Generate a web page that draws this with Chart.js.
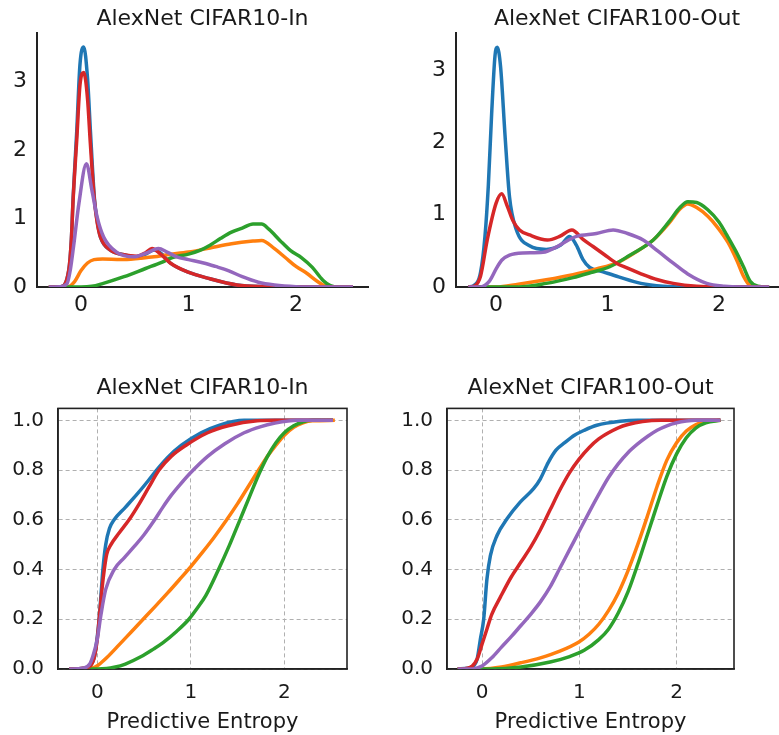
<!DOCTYPE html>
<html>
<head>
<meta charset="utf-8">
<script src="https://cdn.jsdelivr.net/npm/chart.js@4.4.0/dist/chart.umd.min.js"></script>
<style>
body { margin: 0; background: #fff; width: 779px; height: 735px; position: relative; overflow: hidden; }
.panel { position: absolute; }
</style>
</head>
<body>
<div class="panel" style="left:0px;top:0px"><canvas id="kdeIn" width="380" height="335"></canvas></div>
<div class="panel" style="left:420px;top:0px"><canvas id="kdeOut" width="359" height="335"></canvas></div>
<div class="panel" style="left:0px;top:370px"><canvas id="cdfIn" width="360" height="365"></canvas></div>
<div class="panel" style="left:390px;top:370px"><canvas id="cdfOut" width="389" height="365"></canvas></div>
<script>
// series colours, in draw order: blue, orange, green, red, purple
var COLORS = ['#1f77b4', '#ff7f0e', '#2ca02c', '#d62728', '#9467bd'];

var titles = ['AlexNet CIFAR10-In', 'AlexNet CIFAR100-Out'];
var xLabel = 'Predictive Entropy';
var xTicks = [0, 1, 2];
var kdeTicks = [0, 1, 2, 3];
var cdfTicks = [0, 0.2, 0.4, 0.6, 0.8, 1.0];

// density, CIFAR10-In  ([entropy, density])
var kdeInBlue = [[-0.3,0],[-0.19,0.005],[-0.115,0.24],[-0.09,0.7],[-0.074,1.3],[-0.04,2.28],[-0.01,3.25],[0.025,3.5],[0.06,3.05],[0.087,2.28],[0.124,1.3],[0.15,0.96],[0.18,0.73],[0.27,0.54],[0.4,0.47],[0.52,0.44],[0.6,0.48],[0.68,0.54],[0.76,0.47],[0.83,0.35],[0.99,0.22],[1.2,0.12],[1.45,0.03],[1.7,0.005],[2.0,0],[2.53,0]];
var kdeInOrange = [[-0.3,0],[-0.13,0],[-0.06,0.08],[0.0,0.24],[0.06,0.35],[0.12,0.4],[0.2,0.41],[0.37,0.4],[0.55,0.42],[0.68,0.44],[0.8,0.47],[1.0,0.51],[1.2,0.57],[1.4,0.63],[1.6,0.67],[1.68,0.68],[1.8,0.56],[1.9,0.43],[2.0,0.3],[2.1,0.2],[2.2,0.08],[2.28,0.01],[2.4,0],[2.53,0]];
var kdeInGreen = [[-0.3,0],[0.0,0],[0.1,0.01],[0.2,0.05],[0.4,0.15],[0.6,0.27],[0.75,0.36],[0.85,0.43],[1.0,0.48],[1.1,0.53],[1.2,0.61],[1.3,0.71],[1.4,0.8],[1.5,0.86],[1.6,0.92],[1.68,0.92],[1.75,0.84],[1.85,0.68],[1.95,0.53],[2.05,0.43],[2.15,0.29],[2.25,0.1],[2.32,0.02],[2.4,0],[2.53,0]];
var kdeInRed = [[-0.3,0],[-0.19,0.005],[-0.115,0.24],[-0.09,0.7],[-0.074,1.27],[-0.04,2.15],[-0.01,2.95],[0.025,3.13],[0.06,2.75],[0.087,2.08],[0.124,1.27],[0.15,0.94],[0.18,0.73],[0.27,0.54],[0.4,0.47],[0.52,0.45],[0.6,0.5],[0.66,0.56],[0.74,0.48],[0.83,0.35],[0.99,0.22],[1.2,0.12],[1.45,0.03],[1.7,0.005],[2.0,0],[2.53,0]];
var kdeInPurple = [[-0.3,0],[-0.2,0.005],[-0.13,0.05],[-0.1,0.25],[-0.07,0.59],[-0.02,1.22],[0.05,1.8],[0.1,1.42],[0.15,1.02],[0.21,0.73],[0.33,0.51],[0.49,0.44],[0.6,0.49],[0.72,0.56],[0.8,0.51],[0.89,0.44],[1.0,0.4],[1.14,0.35],[1.25,0.3],[1.37,0.24],[1.5,0.15],[1.65,0.07],[1.8,0.03],[2.0,0.005],[2.2,0],[2.53,0]];

// density, CIFAR100-Out
var kdeOutBlue = [[-0.25,0],[-0.2,0.02],[-0.14,0.2],[-0.1,0.7],[-0.07,1.4],[-0.04,2.4],[-0.01,3.2],[0.01,3.32],[0.04,3.05],[0.08,2.1],[0.12,1.25],[0.18,0.8],[0.3,0.57],[0.45,0.52],[0.58,0.58],[0.66,0.7],[0.72,0.58],[0.78,0.38],[0.84,0.27],[0.96,0.21],[1.1,0.14],[1.3,0.05],[1.5,0.01],[1.7,0],[2.45,0]];
var kdeOutOrange = [[-0.25,0],[0.0,0],[0.2,0.04],[0.45,0.1],[0.69,0.17],[0.9,0.25],[1.08,0.33],[1.25,0.48],[1.41,0.65],[1.55,0.88],[1.65,1.08],[1.72,1.15],[1.8,1.1],[1.9,0.98],[1.98,0.84],[2.08,0.62],[2.16,0.37],[2.22,0.15],[2.28,0.02],[2.35,0],[2.45,0]];
var kdeOutGreen = [[-0.25,0],[0.2,0],[0.45,0.05],[0.69,0.13],[0.85,0.2],[1.02,0.28],[1.2,0.44],[1.41,0.65],[1.55,0.9],[1.65,1.1],[1.72,1.18],[1.8,1.17],[1.9,1.07],[2.0,0.9],[2.07,0.72],[2.15,0.5],[2.22,0.28],[2.28,0.08],[2.35,0.01],[2.45,0]];
var kdeOutRed = [[-0.25,0],[-0.2,0.01],[-0.14,0.15],[-0.08,0.65],[0.0,1.16],[0.05,1.29],[0.1,1.12],[0.15,0.92],[0.21,0.79],[0.3,0.72],[0.46,0.65],[0.57,0.7],[0.68,0.79],[0.78,0.66],[0.87,0.56],[0.97,0.45],[1.08,0.33],[1.18,0.26],[1.29,0.19],[1.45,0.1],[1.59,0.05],[1.8,0.01],[2.0,0],[2.45,0]];
var kdeOutPurple = [[-0.25,0],[-0.14,0],[-0.06,0.08],[0.0,0.25],[0.05,0.37],[0.12,0.44],[0.24,0.47],[0.42,0.48],[0.55,0.56],[0.65,0.65],[0.72,0.7],[0.9,0.74],[1.05,0.79],[1.18,0.74],[1.32,0.65],[1.45,0.5],[1.59,0.33],[1.72,0.18],[1.89,0.05],[2.05,0.01],[2.2,0],[2.45,0]];

// cumulative, CIFAR10-In
var cdfInBlue = [[-0.3,0],[-0.15,0.003],[-0.07,0.015],[-0.03,0.05],[0.0,0.13],[0.02,0.2],[0.04,0.3],[0.06,0.4],[0.09,0.5],[0.13,0.565],[0.18,0.6],[0.3,0.65],[0.43,0.705],[0.54,0.755],[0.645,0.805],[0.75,0.85],[0.9,0.9],[1.11,0.95],[1.3,0.98],[1.57,1.0],[2.52,1.0]];
var cdfInOrange = [[-0.3,0],[-0.12,0],[-0.05,0.004],[0.0,0.013],[0.05,0.028],[0.1,0.045],[0.235,0.098],[0.36,0.148],[0.485,0.198],[0.62,0.252],[0.75,0.305],[0.88,0.36],[1.0,0.412],[1.13,0.472],[1.25,0.53],[1.38,0.598],[1.5,0.665],[1.6,0.725],[1.7,0.785],[1.8,0.845],[1.9,0.895],[2.0,0.94],[2.1,0.972],[2.2,0.99],[2.3,0.998],[2.54,1.0]];
var cdfInGreen = [[-0.3,0],[0.0,0],[0.1,0.002],[0.18,0.007],[0.3,0.02],[0.47,0.05],[0.6,0.08],[0.7,0.105],[0.85,0.152],[0.98,0.2],[1.07,0.245],[1.16,0.295],[1.29,0.395],[1.41,0.495],[1.52,0.595],[1.63,0.695],[1.73,0.785],[1.82,0.855],[1.91,0.91],[2.0,0.95],[2.1,0.978],[2.2,0.994],[2.3,1.0],[2.52,1.0]];
var cdfInRed = [[-0.3,0],[-0.15,0.003],[-0.07,0.015],[-0.03,0.05],[0.0,0.12],[0.02,0.2],[0.05,0.32],[0.075,0.4],[0.1,0.46],[0.146,0.5],[0.235,0.548],[0.34,0.6],[0.45,0.665],[0.55,0.73],[0.66,0.8],[0.79,0.855],[0.95,0.9],[1.18,0.95],[1.4,0.978],[1.71,0.998],[1.9,1.0],[2.52,1.0]];
var cdfInPurple = [[-0.3,0],[-0.15,0.003],[-0.08,0.02],[-0.04,0.06],[0.0,0.12],[0.04,0.22],[0.09,0.32],[0.18,0.4],[0.29,0.448],[0.4,0.495],[0.5,0.54],[0.61,0.598],[0.7,0.65],[0.79,0.698],[0.9,0.748],[1.0,0.79],[1.18,0.855],[1.36,0.905],[1.57,0.95],[1.75,0.975],[1.89,0.988],[2.14,1.0],[2.52,1.0]];

// cumulative, CIFAR100-Out
var cdfOutBlue = [[-0.25,0],[-0.15,0.003],[-0.086,0.013],[-0.05,0.04],[-0.017,0.12],[0.017,0.2],[0.05,0.36],[0.086,0.456],[0.154,0.537],[0.257,0.604],[0.39,0.67],[0.53,0.725],[0.6,0.765],[0.68,0.83],[0.76,0.88],[0.85,0.91],[0.95,0.94],[1.05,0.96],[1.18,0.98],[1.42,0.996],[1.6,1.0],[2.45,1.0]];
var cdfOutOrange = [[-0.25,0],[0.0,0],[0.2,0.008],[0.4,0.025],[0.6,0.045],[0.8,0.072],[1.0,0.11],[1.1,0.14],[1.2,0.18],[1.3,0.235],[1.4,0.305],[1.5,0.395],[1.6,0.5],[1.7,0.615],[1.8,0.735],[1.9,0.84],[2.0,0.91],[2.1,0.957],[2.2,0.983],[2.3,0.996],[2.45,1.0]];
var cdfOutGreen = [[-0.25,0],[0.1,0],[0.4,0.008],[0.7,0.028],[0.9,0.05],[1.05,0.075],[1.2,0.118],[1.3,0.16],[1.4,0.225],[1.5,0.31],[1.6,0.42],[1.7,0.54],[1.8,0.66],[1.9,0.775],[2.0,0.865],[2.1,0.93],[2.2,0.97],[2.3,0.99],[2.45,1.0]];
var cdfOutRed = [[-0.25,0],[-0.15,0.003],[-0.1,0.012],[-0.05,0.04],[0.0,0.1],[0.05,0.16],[0.1,0.22],[0.19,0.29],[0.3,0.37],[0.4,0.43],[0.5,0.49],[0.6,0.56],[0.7,0.64],[0.8,0.72],[0.9,0.79],[1.0,0.845],[1.1,0.89],[1.2,0.925],[1.3,0.95],[1.4,0.97],[1.5,0.983],[1.65,0.995],[1.84,1.0],[2.45,1.0]];
var cdfOutPurple = [[-0.25,0],[-0.1,0],[-0.05,0.004],[0.0,0.012],[0.1,0.045],[0.2,0.088],[0.3,0.13],[0.4,0.175],[0.5,0.22],[0.6,0.27],[0.7,0.33],[0.8,0.405],[0.9,0.48],[1.0,0.555],[1.1,0.63],[1.2,0.702],[1.3,0.77],[1.4,0.825],[1.5,0.87],[1.6,0.905],[1.7,0.935],[1.8,0.96],[1.9,0.978],[2.0,0.99],[2.1,0.997],[2.2,1.0],[2.45,1.0]];

Chart.defaults.font.family = "'DejaVu Sans', sans-serif";
Chart.defaults.color = '#1a1a1a';

// full box round the plot area (bottom row)
var framePlugin = {
    id: 'frame',
    beforeDatasetsDraw: function (chart) {
        var a = chart.chartArea, ctx = chart.ctx;
        ctx.save();
        ctx.strokeStyle = '#222';
        ctx.lineWidth = 1.6;
        ctx.strokeRect(a.left, a.top, a.right - a.left, a.bottom - a.top);
        ctx.restore();
    }
};

function drawPanel(id, title, lines, o) {
    var datasets = lines.map(function (pts, i) {
        return {
            data: pts,
            borderColor: COLORS[i],
            backgroundColor: COLORS[i],
            borderWidth: 3.5,
            pointRadius: 0,
            cubicInterpolationMode: 'monotone',
            order: lines.length - i
        };
    });
    var gridOpts = o.grid
        ? { display: true, color: '#b0b0b0', lineWidth: 1, drawTicks: false }
        : { display: false, drawTicks: false };
    return new Chart(document.getElementById(id), {
        type: 'line',
        data: { datasets: datasets },
        options: {
            responsive: false,
            animation: false,
            layout: { padding: { left: 0, right: o.padRight, top: 0, bottom: 0 } },
            plugins: {
                legend: { display: false },
                tooltip: { enabled: false },
                title: {
                    display: true,
                    text: title,
                    fullSize: false,
                    color: '#1a1a1a',
                    font: { size: 22, weight: 'normal' },
                    padding: o.titlePad
                }
            },
            scales: {
                x: {
                    type: 'linear',
                    min: o.xMin,
                    max: o.xMax,
                    grid: gridOpts,
                    border: { display: true, color: '#222', width: o.spine, dash: [4, 3] },
                    afterBuildTicks: function (s) { s.ticks = xTicks.map(function (v) { return { value: v }; }); },
                    afterFit: function (s) { s.height = o.xH; },
                    ticks: {
                        font: { size: o.tickSize },
                        padding: o.xPad,
                        maxRotation: 0,
                        callback: function (v) { return String(v); }
                    },
                    title: o.xTitle
                        ? { display: true, text: xLabel, font: { size: 21 }, padding: { top: 0, bottom: 0 } }
                        : { display: false }
                },
                y: {
                    type: 'linear',
                    min: 0,
                    max: o.yMax,
                    grid: gridOpts,
                    border: { display: true, color: '#222', width: o.spine, dash: [4, 3] },
                    afterBuildTicks: function (s) { s.ticks = o.yTicks.map(function (v) { return { value: v }; }); },
                    afterFit: function (s) { s.width = o.yW; },
                    ticks: {
                        font: { size: o.tickSize },
                        padding: o.yPad,
                        callback: function (v) { return o.grid ? v.toFixed(1) : String(v); }
                    }
                }
            }
        },
        plugins: o.grid ? [framePlugin] : []
    });
}

drawPanel('kdeIn', titles[0], [kdeInBlue, kdeInOrange, kdeInGreen, kdeInRed, kdeInPurple], {
    xMin: -0.41, xMax: 2.67, yMax: 3.70, yTicks: kdeTicks, grid: false, spine: 2,
    tickSize: 22, xPad: 5, yPad: 10, yW: 37, xH: 48, padRight: 12,
    titlePad: { top: 6, bottom: 1 }, xTitle: false
});
drawPanel('kdeOut', titles[1], [kdeOutBlue, kdeOutOrange, kdeOutGreen, kdeOutRed, kdeOutPurple], {
    xMin: -0.36, xMax: 2.53, yMax: 3.51, yTicks: kdeTicks, grid: false, spine: 2,
    tickSize: 22, xPad: 5, yPad: 10, yW: 36, xH: 48, padRight: 1,
    titlePad: { top: 6, bottom: 1 }, xTitle: false
});
drawPanel('cdfIn', titles[0], [cdfInBlue, cdfInOrange, cdfInGreen, cdfInRed, cdfInPurple], {
    xMin: -0.42, xMax: 2.67, yMax: 1.048, yTicks: cdfTicks, grid: true, spine: 1.6,
    tickSize: 20, xPad: 12, yPad: 14, yW: 58, xH: 66, padRight: 13,
    titlePad: { top: 5, bottom: 7 }, xTitle: true
});
drawPanel('cdfOut', titles[1], [cdfOutBlue, cdfOutOrange, cdfOutGreen, cdfOutRed, cdfOutPurple], {
    xMin: -0.36, xMax: 2.59, yMax: 1.048, yTicks: cdfTicks, grid: true, spine: 1.6,
    tickSize: 20, xPad: 12, yPad: 14, yW: 57, xH: 66, padRight: 45,
    titlePad: { top: 5, bottom: 7 }, xTitle: true
});
</script>
</body>
</html>
